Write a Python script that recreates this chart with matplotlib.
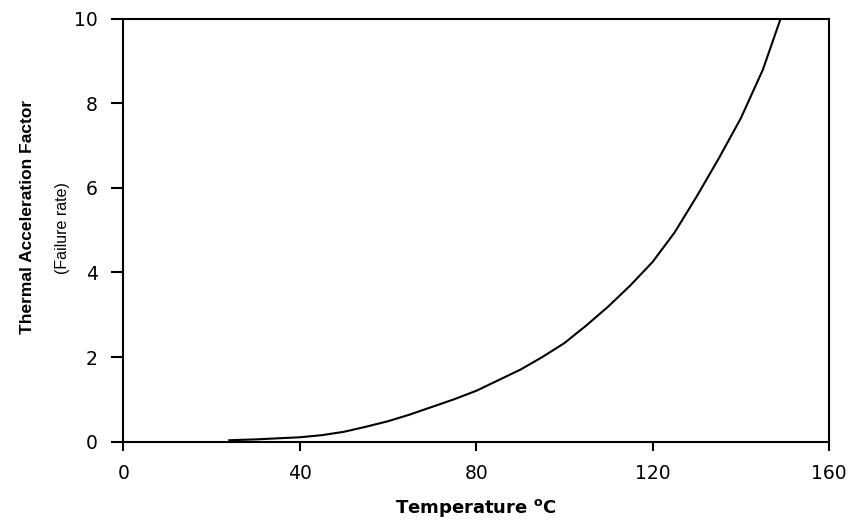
import matplotlib
matplotlib.use("Agg")
import matplotlib.pyplot as plt

# temperature (deg C) and thermal acceleration factor
temps = [24, 30, 40, 45, 50, 55, 60, 65, 70, 75, 80, 85, 90, 95, 100,
         105, 110, 115, 120, 125, 130, 135, 140, 145, 149]
accel = [0.03, 0.05, 0.1, 0.15, 0.23, 0.35, 0.48, 0.64, 0.82, 1.0, 1.2, 1.45, 1.7, 2.0, 2.33,
         2.75, 3.2, 3.7, 4.25, 4.95, 5.8, 6.7, 7.65, 8.8, 10.0]

x_ticks = [0, 40, 80, 120, 160]
y_ticks = [0, 2, 4, 6, 8, 10]

plt.rcParams['font.family'] = ['DejaVu Sans']
plt.rcParams['mathtext.fontset'] = 'dejavusans'


def plot_curve():
    fig = plt.figure(figsize=(8.48, 5.29), dpi=100)
    ax = fig.add_axes([0.1456, 0.1654, 0.832, 0.7987])

    ax.plot(temps, accel, color='black', linewidth=1.5)

    ax.set_xlim(0, 160)
    ax.set_ylim(0, 10)
    ax.set_xticks(x_ticks)
    ax.set_yticks(y_ticks)
    ax.tick_params(direction='out', width=1.5, labelsize=13.5, colors='black')
    ax.tick_params(axis='y', length=8.5, pad=10)
    ax.tick_params(axis='x', length=6.5, pad=10)
    for s in ax.spines.values():
        s.set_linewidth(1.5)

    ax.set_xlabel('Temperature $^{\\mathbf{o}}$C', fontsize=13, fontweight='bold')
    ax.xaxis.set_label_coords(0.5, -0.132)

    # two-line y label: bold title and plain note underneath
    ax.text(-0.1354, 0.531, 'Thermal Acceleration Factor', transform=ax.transAxes, rotation=90,
            ha='center', va='center', fontsize=12.5, fontweight='bold', family='Liberation Sans')
    ax.text(-0.087, 0.505, '(Failure rate)', transform=ax.transAxes, rotation=90,
            ha='center', va='center', fontsize=11.5, family='Liberation Sans')

    fig.savefig('out.png', dpi=100)


if __name__ == "__main__":
    plot_curve()
